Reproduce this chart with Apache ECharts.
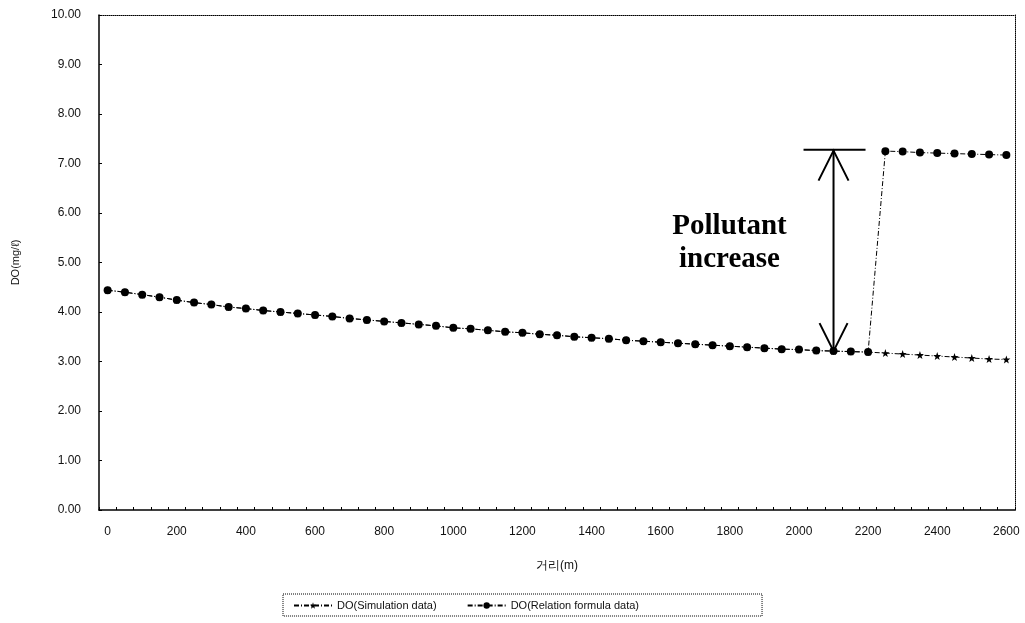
<!DOCTYPE html>
<html>
<head>
<meta charset="utf-8">
<title>DO profile</title>
<script src="https://cdn.jsdelivr.net/npm/echarts@6/dist/echarts.min.js"></script>
<style>
  html, body { margin: 0; padding: 0; background: #fff; }
  #chart { width: 1025px; height: 623px; }
</style>
</head>
<body>
<div id="chart"></div>
<script>
// Distance along the reach (m), one category every 50 m
const distances = [
  '0', '50', '100', '150', '200', '250', '300', '350', '400', '450',
  '500', '550', '600', '650', '700', '750', '800', '850', '900', '950',
  '1000', '1050', '1100', '1150', '1200', '1250', '1300', '1350', '1400', '1450',
  '1500', '1550', '1600', '1650', '1700', '1750', '1800', '1850', '1900', '1950',
  '2000', '2050', '2100', '2150', '2200', '2250', '2300', '2350', '2400', '2450',
  '2500', '2550', '2600'
];

// DO from the simulation model (mg/l)
const simulationDO = [
  4.44, 4.40, 4.35, 4.30, 4.24, 4.19, 4.15, 4.10, 4.07, 4.03,
  4.00, 3.97, 3.94, 3.91, 3.87, 3.84, 3.81, 3.78, 3.75, 3.72,
  3.68, 3.66, 3.63, 3.60, 3.58, 3.55, 3.53, 3.50, 3.48, 3.46,
  3.43, 3.41, 3.39, 3.37, 3.35, 3.33, 3.31, 3.29, 3.27, 3.25,
  3.24, 3.22, 3.21, 3.20, 3.19, 3.17, 3.15, 3.13, 3.11, 3.09,
  3.07, 3.05, 3.04
];

// DO from the relation formula (mg/l)
const relationDO = [
  4.44, 4.40, 4.35, 4.30, 4.24, 4.19, 4.15, 4.10, 4.07, 4.03,
  4.00, 3.97, 3.94, 3.91, 3.87, 3.84, 3.81, 3.78, 3.75, 3.72,
  3.68, 3.66, 3.63, 3.60, 3.58, 3.55, 3.53, 3.50, 3.48, 3.46,
  3.43, 3.41, 3.39, 3.37, 3.35, 3.33, 3.31, 3.29, 3.27, 3.25,
  3.24, 3.22, 3.21, 3.20, 3.19, 7.25, 7.24, 7.22, 7.21, 7.20,
  7.19, 7.18, 7.17
];

// Double arrow showing the jump in DO
const arrowAt = '2100';
const arrowFrom = 3.21;
const arrowTo = 7.28;
const annotationLines = ['Pollutant', 'increase'];

const seriesNames = ['DO(Simulation data)', 'DO(Relation formula data)'];

const starPath = 'path://M0,-10L2.4,-3.1L9.5,-3.1L3.8,1.2L5.9,8.1L0,4L-5.9,8.1L-3.8,1.2L-9.5,-3.1L-2.4,-3.1Z';
const labelFont = { fontFamily: 'Liberation Sans', fontSize: 12, color: '#111' };

const chart = echarts.init(document.getElementById('chart'), null, { renderer: 'canvas' });

chart.setOption({
  animation: false,
  backgroundColor: '#fff',
  grid: { left: 99, right: 10, top: 15, bottom: 113, containLabel: false },
  xAxis: [
    {
      type: 'category',
      data: distances,
      boundaryGap: true,
      name: '거리(m)',
      nameLocation: 'middle',
      nameGap: 50,
      nameTextStyle: { fontFamily: 'Liberation Sans', fontSize: 12, color: '#111' },
      axisLine: { lineStyle: { color: '#000', width: 1.5 } },
      axisTick: { show: true, inside: true, length: 3, interval: 0, lineStyle: { color: '#000' } },
      axisLabel: Object.assign({ interval: 3, margin: 16 }, labelFont),
      splitLine: { show: false }
    },
    {
      // dotted top edge of the plot frame
      type: 'category',
      position: 'top',
      data: distances,
      axisLine: { show: true, onZero: false, lineStyle: { color: '#000', width: 1, type: 'dotted' } },
      axisTick: { show: false },
      axisLabel: { show: false },
      splitLine: { show: false }
    }
  ],
  yAxis: [
    {
      type: 'value',
      min: 0,
      max: 10,
      interval: 1,
      name: 'DO(mg/ℓ)',
      nameLocation: 'middle',
      nameGap: 78,
      nameTextStyle: { fontFamily: 'Liberation Sans', fontSize: 11, color: '#111' },
      axisLine: { show: true, lineStyle: { color: '#000', width: 1.5 } },
      axisTick: { show: true, inside: true, length: 3, lineStyle: { color: '#000' } },
      axisLabel: Object.assign({ margin: 18, formatter: v => v.toFixed(2) }, labelFont),
      splitLine: { show: false }
    },
    {
      // dotted right edge of the plot frame
      type: 'value',
      position: 'right',
      min: 0,
      max: 10,
      interval: 1,
      axisLine: { show: true, onZero: false, lineStyle: { color: '#000', width: 1, type: 'dotted' } },
      axisTick: { show: false },
      axisLabel: { show: false },
      splitLine: { show: false }
    }
  ],
  legend: {
    data: seriesNames,
    left: 283,
    top: 594,
    orient: 'horizontal',
    itemWidth: 38,
    itemHeight: 8,
    itemGap: 30,
    padding: [6, 123, 5, 10],
    borderColor: '#000',
    borderWidth: 1,
    borderType: 'dotted',
    textStyle: { fontFamily: 'Liberation Sans', fontSize: 11, color: '#111' }
  },
  series: [
    {
      name: seriesNames[0],
      type: 'line',
      data: simulationDO,
      symbol: starPath,
      symbolSize: 8,
      showAllSymbol: true,
      itemStyle: { color: '#000' },
      lineStyle: { color: '#000', width: 1, type: [5, 2, 1, 2] },
      z: 2
    },
    {
      name: seriesNames[1],
      type: 'line',
      data: relationDO,
      symbol: 'circle',
      symbolSize: 8,
      showAllSymbol: true,
      itemStyle: { color: '#000' },
      lineStyle: { color: '#000', width: 1, type: [5, 2, 1, 2] },
      z: 3
    }
  ]
});

// Annotation: double-headed arrow with a cap bar and its caption
const lo = chart.convertToPixel({ xAxisIndex: 0, yAxisIndex: 0 }, [arrowAt, arrowFrom]);
const hi = chart.convertToPixel({ xAxisIndex: 0, yAxisIndex: 0 }, [arrowAt, arrowTo]);
const ax = lo[0];
const stroke = { stroke: '#000', lineWidth: 2, fill: null };
const captionStyle = { fontFamily: 'Liberation Serif', fontSize: 29, fontWeight: 'bold', fill: '#000', align: 'center', verticalAlign: 'middle' };

chart.setOption({
  graphic: [
    { type: 'line', shape: { x1: ax, y1: hi[1], x2: ax, y2: lo[1] }, style: stroke, z: 10 },
    { type: 'line', shape: { x1: ax - 30, y1: hi[1], x2: ax + 32, y2: hi[1] }, style: stroke, z: 10 },
    { type: 'polyline', shape: { points: [[ax - 15, hi[1] + 31], [ax, hi[1] + 1], [ax + 15, hi[1] + 31]] }, style: stroke, z: 10 },
    { type: 'polyline', shape: { points: [[ax - 14, lo[1] - 28], [ax, lo[1]], [ax + 14, lo[1] - 28]] }, style: stroke, z: 10 },
    { type: 'text', x: ax - 104, y: hi[1] + 77, z: 10, style: Object.assign({ text: annotationLines[0] }, captionStyle) },
    { type: 'text', x: ax - 104, y: hi[1] + 110, z: 10, style: Object.assign({ text: annotationLines[1] }, captionStyle) }
  ]
});
</script>
</body>
</html>
